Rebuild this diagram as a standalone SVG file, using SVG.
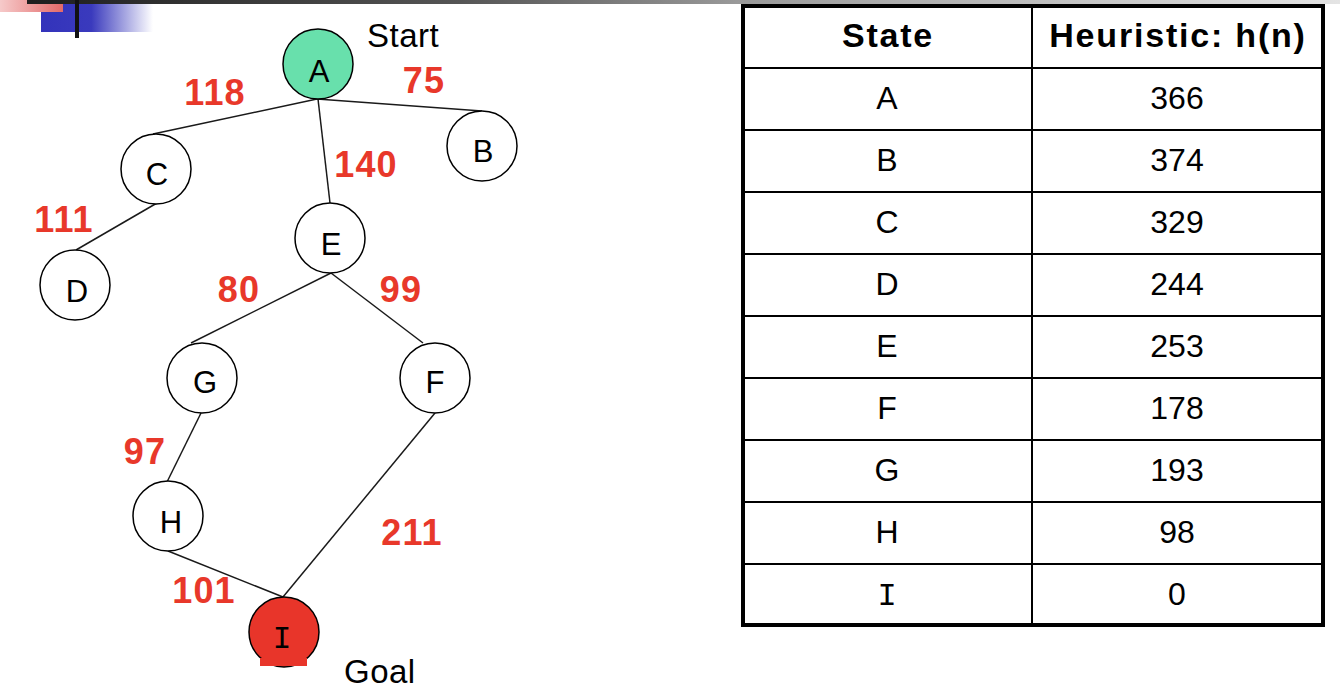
<svg xmlns="http://www.w3.org/2000/svg" width="1340" height="691" viewBox="0 0 1340 691">
<defs>
<linearGradient id="bar" x1="0" y1="0" x2="1" y2="0">
<stop offset="0" stop-color="#1e1e1e"/>
<stop offset="0.33" stop-color="#555"/>
<stop offset="0.54" stop-color="#999"/>
<stop offset="1" stop-color="#e4e4e4"/>
</linearGradient>
<linearGradient id="pink" x1="0" y1="0" x2="1" y2="0">
<stop offset="0" stop-color="#f6caca"/>
<stop offset="1" stop-color="#e36a6a"/>
</linearGradient>
<linearGradient id="blue" x1="0" y1="0" x2="1" y2="0">
<stop offset="0" stop-color="#3333bb"/>
<stop offset="0.45" stop-color="#3a3abd"/>
<stop offset="1" stop-color="#ffffff"/>
</linearGradient>
<style>
.node{fill:#fff;stroke:#000;stroke-width:1.5}
.lbl{font-family:"Liberation Sans",Arial,sans-serif;font-size:31px;fill:#000;text-anchor:middle}
.w{font-family:"Liberation Sans",Arial,sans-serif;font-size:36px;font-weight:bold;fill:#e8382a;text-anchor:middle;letter-spacing:1.2px}
.note{font-family:"Liberation Sans",Arial,sans-serif;font-size:33px;fill:#000;letter-spacing:0.5px}
.edge{stroke:#1a1a1a;stroke-width:1.5;fill:none}
.cell{font-family:"Liberation Sans",Arial,sans-serif;font-size:32px;fill:#000;text-anchor:middle}
.hdr{font-family:"Liberation Sans",Arial,sans-serif;font-size:34px;font-weight:bold;fill:#000;text-anchor:middle;letter-spacing:1.8px}
.grid{stroke:#000;stroke-width:2}
.serifI{font-family:"Liberation Mono","Courier New",monospace}
</style>
</defs>
<rect width="1340" height="691" fill="#fff"/>
<g id="decoration">
<rect x="41" y="4" width="112" height="28" fill="url(#blue)"/>
<rect x="0" y="0" width="63" height="12" fill="url(#pink)"/>
<rect x="27" y="0" width="1313" height="4" fill="url(#bar)"/>
<rect x="75" y="0" width="4" height="38" fill="#111"/>
</g>
<g id="connectors">
<line class="edge" x1="317" y1="99" x2="153" y2="134"/>
<line class="edge" x1="317" y1="99" x2="482" y2="111"/>
<line class="edge" x1="318" y1="99" x2="330" y2="203"/>
<line class="edge" x1="157" y1="203" x2="76" y2="250"/>
<line class="edge" x1="331" y1="273" x2="191" y2="343"/>
<line class="edge" x1="331" y1="273" x2="423" y2="343"/>
<line class="edge" x1="201" y1="413" x2="167" y2="482"/>
<line class="edge" x1="168" y1="551" x2="283" y2="597"/>
<line class="edge" x1="435" y1="413" x2="283" y2="597"/>
</g>
<g id="weights">
<text class="w" x="215" y="105">118</text>
<text class="w" x="424" y="93">75</text>
<text class="w" x="366" y="177">140</text>
<text class="w" x="64" y="232">111</text>
<text class="w" x="239" y="302">80</text>
<text class="w" x="401" y="302">99</text>
<text class="w" x="145" y="464">97</text>
<text class="w" x="412" y="545">211</text>
<text class="w" x="204" y="603">101</text>
</g>
<g id="node-A"><circle cx="318" cy="64" r="35" fill="#68e0ac" stroke="#000" stroke-width="1.5"/><text class="lbl" x="319" y="82">A</text></g>
<g id="node-B"><circle class="node" cx="482" cy="146" r="35"/><text class="lbl" x="483" y="162">B</text></g>
<g id="node-C"><circle class="node" cx="156" cy="169" r="35"/><text class="lbl" x="157" y="185">C</text></g>
<g id="node-D"><circle class="node" cx="75" cy="285" r="35"/><text class="lbl" x="77" y="302">D</text></g>
<g id="node-E"><circle class="node" cx="330" cy="238" r="35"/><text class="lbl" x="331" y="255">E</text></g>
<g id="node-G"><circle class="node" cx="202" cy="378" r="35"/><text class="lbl" x="205" y="393">G</text></g>
<g id="node-F"><circle class="node" cx="435" cy="378" r="35"/><text class="lbl" x="435" y="393">F</text></g>
<g id="node-H"><circle class="node" cx="168" cy="516" r="35"/><text class="lbl" x="171" y="533">H</text></g>
<g id="node-I"><circle cx="284" cy="632" r="35" fill="#e8352a" stroke="#000" stroke-width="1.5"/><rect x="260" y="658" width="47" height="8" fill="#e8352a"/><text class="lbl serifI" x="282" y="648">I</text></g>
<text class="note" x="367" y="47">Start</text>
<text class="note" x="344" y="683">Goal</text>
<g id="table">
<rect x="743" y="6" width="580" height="619" fill="#fff" stroke="#000" stroke-width="4"/>
<line class="grid" x1="1032" y1="6" x2="1032" y2="625"/>
<line class="grid" x1="743" y1="68" x2="1323" y2="68"/>
<line class="grid" x1="743" y1="130" x2="1323" y2="130"/>
<line class="grid" x1="743" y1="192" x2="1323" y2="192"/>
<line class="grid" x1="743" y1="254" x2="1323" y2="254"/>
<line class="grid" x1="743" y1="316" x2="1323" y2="316"/>
<line class="grid" x1="743" y1="378" x2="1323" y2="378"/>
<line class="grid" x1="743" y1="440" x2="1323" y2="440"/>
<line class="grid" x1="743" y1="502" x2="1323" y2="502"/>
<line class="grid" x1="743" y1="564" x2="1323" y2="564"/>
<text class="hdr" x="888" y="47">State</text>
<text class="hdr" x="1178" y="47">Heuristic: h(n)</text>
<text class="cell" x="887" y="109">A</text><text class="cell" x="1177" y="109">366</text>
<text class="cell" x="887" y="171">B</text><text class="cell" x="1177" y="171">374</text>
<text class="cell" x="887" y="233">C</text><text class="cell" x="1177" y="233">329</text>
<text class="cell" x="887" y="295">D</text><text class="cell" x="1177" y="295">244</text>
<text class="cell" x="887" y="357">E</text><text class="cell" x="1177" y="357">253</text>
<text class="cell" x="887" y="419">F</text><text class="cell" x="1177" y="419">178</text>
<text class="cell" x="887" y="481">G</text><text class="cell" x="1177" y="481">193</text>
<text class="cell" x="887" y="543">H</text><text class="cell" x="1177" y="543">98</text>
<text class="cell serifI" x="887" y="605">I</text><text class="cell" x="1177" y="605">0</text>
</g>
</svg>
